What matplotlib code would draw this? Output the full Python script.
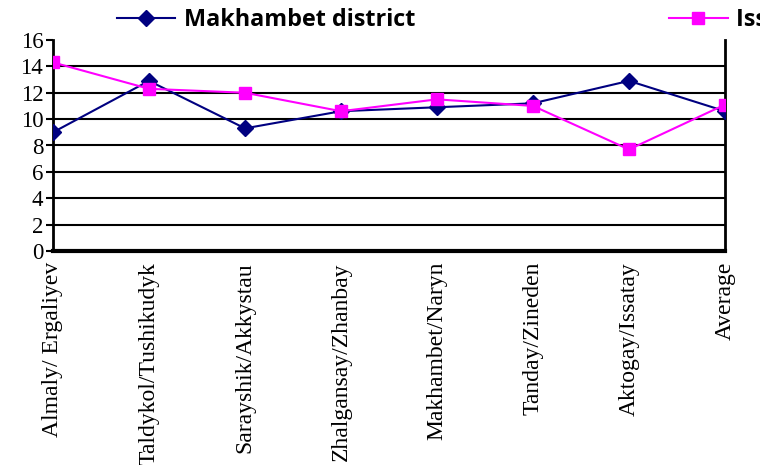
import numpy as np
import matplotlib
matplotlib.use('Agg')
import matplotlib.pyplot as plt

# categorieen en waarden
villages = ['Almaly/ Ergaliyev', 'Taldykol/Tushikudyk', 'Sarayshik/Akkystau',
            'Zhalgansay/Zhanbay', 'Makhambet/Naryn', 'Tanday/Zineden',
            'Aktogay/Issatay', 'Average']
makhambet = [9.0, 12.9, 9.3, 10.6, 10.9, 11.2, 12.9, 10.6]
issatay = [14.3, 12.3, 12.0, 10.6, 11.5, 11.0, 7.7, 11.1]
yticks = np.arange(0, 17, 2)

fig = plt.figure(figsize=(7.6, 4.65), dpi=100)
ax = fig.add_axes([53 / 760, 1 - 251 / 465, 672 / 760, 211 / 465])

x = np.arange(len(villages))
ax.plot(x, makhambet, color='#000080', marker='D', markersize=8, linewidth=1.5,
        label='Makhambet district', zorder=3)
ax.plot(x, issatay, color='#FF00FF', marker='s', markersize=9, linewidth=1.5,
        label='Issatay district', zorder=3)

ax.set_xlim(0, len(villages) - 1)
ax.set_ylim(0, 16)
ax.set_yticks(yticks)
ax.set_xticks(x)
ax.set_xticklabels(villages, rotation=90, family='Liberation Serif', fontsize=17)
for lbl in ax.get_yticklabels():
    lbl.set_family('Liberation Serif')
    lbl.set_fontsize(16.5)

# rasterlijnen zonder lijn op 16
for yv in yticks[1:-1]:
    ax.axhline(yv, color='black', linewidth=1.5, zorder=1)

ax.spines['top'].set_visible(False)
ax.spines['left'].set_linewidth(2)
ax.spines['right'].set_linewidth(2)
ax.spines['bottom'].set_linewidth(3)
ax.tick_params(axis='y', direction='out', length=5, width=1.5, pad=2)
ax.tick_params(axis='x', length=0, pad=8)
for s in ax.spines.values():
    s.set_clip_on(False)

ax.legend(loc='lower left', bbox_to_anchor=(117 / 760, 1 - 32 / 465),
          bbox_transform=fig.transFigure, ncol=2, frameon=False,
          prop={'family': 'Open Sans', 'weight': 'bold', 'size': 16.8},
          handlelength=2.5, handletextpad=0.35, columnspacing=10.9,
          borderpad=0, borderaxespad=0)

plt.savefig('out.png')
plt.close()
